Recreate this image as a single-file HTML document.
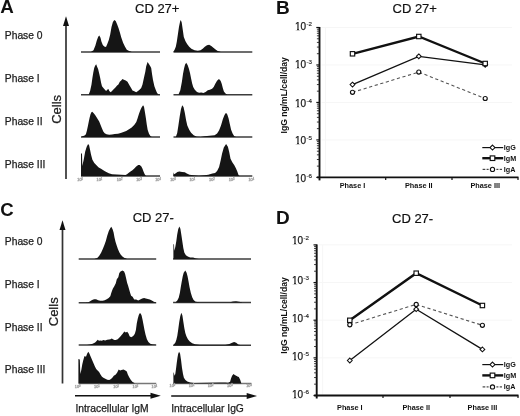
<!DOCTYPE html>
<html><head><meta charset="utf-8"><style>
html,body{margin:0;padding:0;background:#fff;width:520px;height:416px;overflow:hidden}
svg{display:block;font-family:"Liberation Sans", sans-serif}
body{filter:grayscale(1) blur(0.3px)}
</style></head><body>
<svg width="520" height="416" viewBox="0 0 520 416" font-family='"Liberation Sans", sans-serif' fill="#111">
<rect width="520" height="416" fill="#fff"/>
<text x="0.3" y="13.4" font-size="18.8" font-weight="bold">A</text>
<text x="135" y="12.9" font-size="13" stroke="#111" stroke-width="0.2">CD 27+</text>
<text x="4.8" y="39" font-size="10.3" fill="#1c1c1c" stroke="#1c1c1c" stroke-width="0.25">Phase 0</text>
<text x="4.8" y="81.9" font-size="10.3" fill="#1c1c1c" stroke="#1c1c1c" stroke-width="0.25">Phase I</text>
<text x="4.8" y="125" font-size="10.3" fill="#1c1c1c" stroke="#1c1c1c" stroke-width="0.25">Phase II</text>
<text x="4.8" y="168" font-size="10.3" fill="#1c1c1c" stroke="#1c1c1c" stroke-width="0.25">Phase III</text>
<text transform="translate(61.2,109.4) rotate(-90)" font-size="13" text-anchor="middle" fill="#1c1c1c" stroke="#1c1c1c" stroke-width="0.25">Cells</text>
<line x1="66" y1="24" x2="66" y2="179" stroke="#333" stroke-width="1.7"/>
<polygon points="66,16.2 63,26 69,26" fill="#111"/>
<line x1="81" y1="52" x2="160" y2="52" stroke="#3c3c3c" stroke-width="1.5"/>
<path d="M90.8,52 L90.8,51.9 L93.5,50.2 L95.4,45.5 L96.8,40.5 L98.2,36.8 L99.3,35.4 L100.5,37.7 L101.4,41.4 L102.8,45.1 L104.2,46.5 L106,46.9 L107.4,43.7 L108.8,40 L110.2,34.5 L111.5,27.1 L112.9,22 L114.3,19.9 L115.7,21.1 L117.1,24.3 L118.5,28 L119.9,32.6 L121.2,37.2 L123.1,42.8 L124.9,46.5 L126.8,49.7 L129.1,51.1 L131.4,51.8 L131.4,52 Z" fill="#151515"/>
<line x1="173.5" y1="52" x2="252.3" y2="52" stroke="#3c3c3c" stroke-width="1.5"/>
<path d="M173.6,52 L173.6,51.5 L174.7,49.4 L175.8,46.7 L176.8,41.8 L177.9,34.3 L179,26.8 L180.1,21.4 L180.8,20.1 L181.7,22.5 L182.8,30 L183.8,37 L185.5,41.3 L187.1,44 L189.2,46.7 L191.4,48.8 L194.6,50.2 L197.8,50.7 L200.5,50.2 L202.7,48.8 L204.8,46.7 L207,45.3 L209.1,44.8 L211.3,45.9 L213.4,47.8 L215.6,49.6 L217.7,51 L220.4,51.7 L220.4,52 Z" fill="#151515"/>
<line x1="81" y1="94.8" x2="160" y2="94.8" stroke="#3c3c3c" stroke-width="1.5"/>
<path d="M88.7,94.8 L88.7,94.5 L90.1,90.9 L91.5,84.5 L92.4,78.1 L93.3,72.6 L94.2,68 L95.1,65.8 L96.2,64.2 L97.1,66.7 L98.1,69 L99.2,73.5 L100.2,78.1 L101.1,82.7 L102,86.3 L103.4,88.1 L104.7,89.5 L106.1,90.9 L107.5,89.5 L108.4,89.1 L109.3,90.9 L110.7,92.2 L112,90.9 L113.4,89.5 L115.2,87.7 L117.1,85.4 L118.4,84.5 L119.8,81.7 L121.2,80.4 L122.5,79 L123.9,79.7 L125.7,80.4 L127.5,81.7 L129.3,84.9 L131.1,88.1 L132.5,90.4 L134.3,91.3 L136.2,92.2 L138,90.9 L139.8,89.5 L141.2,88.1 L142.5,84.5 L143.9,78.1 L145.3,71.7 L146.2,66.2 L147.6,62.1 L148.9,63.9 L150.3,66.2 L151.2,68 L152.1,74.4 L153,79.9 L154.4,86.3 L155.8,90 L157.2,93.2 L158.5,94.3 L158.5,94.8 Z" fill="#151515"/>
<line x1="173.5" y1="94.8" x2="252.3" y2="94.8" stroke="#3c3c3c" stroke-width="1.5"/>
<path d="M178.7,94.8 L178.7,94.1 L180.3,90.3 L181.9,81.7 L183,74.1 L184.1,68.2 L185.1,64.5 L186.2,62.8 L187.6,65 L188.9,68.8 L190,73.1 L191.1,78.5 L192.1,83.3 L193.2,87.1 L194.8,89.8 L197,91.9 L199.1,92.7 L201.3,92.4 L203.4,93 L205.6,91.9 L207.8,90.3 L209.9,89.8 L212.1,88.7 L213.7,87.1 L215.3,83.8 L216.9,81.1 L218.5,79.3 L219.6,79.5 L220.7,81.1 L221.7,83.8 L222.8,88.1 L223.9,91.4 L225.5,93.5 L227.1,94.4 L227.1,94.8 Z" fill="#151515"/>
<line x1="81" y1="137.1" x2="160" y2="137.1" stroke="#3c3c3c" stroke-width="1.5"/>
<path d="M81.8,137.1 L81.8,136.5 L84.6,135.6 L85.9,134.2 L86.8,131 L87.8,126.5 L88.7,121.9 L89.6,117.8 L90.5,114.2 L91.4,112.3 L92.3,111.7 L93.7,113.2 L95.1,115.1 L96.4,116.9 L97.8,119.2 L99.2,121.5 L100.5,124.7 L101.9,128.3 L103.3,131.5 L104.7,133.3 L106.5,134.2 L109.2,134.7 L112,134.5 L114.7,134 L118,133.8 L120.7,132.9 L123.5,132 L126.2,131.1 L129,129.2 L131.7,127.4 L134.4,124.7 L136.3,121.9 L137.6,118.3 L139,113.7 L140.4,110 L141.7,107.3 L143.1,105.3 L144,106.8 L144.9,111.9 L145.9,118.3 L146.8,124.7 L147.7,130.1 L149,133.8 L150.4,136.1 L151.8,137 L151.8,137.1 Z" fill="#151515"/>
<line x1="173.5" y1="137.1" x2="252.3" y2="137.1" stroke="#3c3c3c" stroke-width="1.5"/>
<path d="M175.9,137.1 L175.9,136.8 L177.2,133 L178.4,125.4 L179.7,116.5 L181,108.9 L182.2,105.3 L183.5,107 L184.8,112.7 L186.1,120.3 L187.3,125.4 L189.2,129.8 L191.1,132.7 L193.7,135.3 L196.8,136.8 L200.6,137.1 L204.5,136.2 L209.5,135.8 L214.6,135.3 L217.1,133.6 L219,130.5 L221,125.4 L222.9,119 L224.5,115 L226,112.7 L227.3,114.6 L228.6,118.4 L229.8,124.1 L231.1,129.8 L232.6,133.6 L234.3,136.2 L236.2,137.1 L236.2,137.1 Z" fill="#151515"/>
<line x1="81" y1="176" x2="160" y2="176" stroke="#3c3c3c" stroke-width="1.5"/>
<path d="M81,176 L81,176 L81,153.5 L82,153.5 L82.3,166 L83.8,159.2 L85.2,151.5 L86.7,146.7 L88.1,144 L89.1,145.3 L90,149.6 L91,154.4 L92.4,159.7 L94.3,163.1 L97.2,166 L98.7,167.4 L101,168.8 L104.9,171.3 L108.8,173.2 L112,174.2 L116.6,174.6 L121.2,174.8 L125.5,175 L127,174.2 L128.5,173.1 L130.5,171.5 L132.4,170.2 L134.3,168.5 L136.2,166.5 L138.2,165 L139.7,165 L141.2,166.2 L142.4,168.5 L143.5,171.5 L144.7,174.2 L145.8,175.8 L145.8,176 Z" fill="#151515"/>
<line x1="173.5" y1="176" x2="252.3" y2="176" stroke="#3c3c3c" stroke-width="1.5"/>
<path d="M173.3,176 L173.3,176 L173.3,172.3 L174,174.3 L175.4,173.4 L177.4,172 L179.4,171.6 L182.1,172 L184.8,172.3 L186.8,173.4 L189.5,174.7 L193.5,175.3 L198.9,175.7 L204.3,175.3 L208.3,174.7 L212.4,173.6 L215.1,173 L217.1,171 L219.1,166.9 L220.7,160.2 L222.1,153.5 L223.8,147.4 L226.1,144 L227.9,146.7 L229.2,152.1 L230.5,158.8 L232.3,162.2 L234.2,164.9 L235.9,168.3 L237.3,171.6 L238.6,175.3 L239.9,176.3 L239.9,176 Z" fill="#151515"/>
<text x="80.2" y="181.2" font-size="3.8" fill="#888" stroke="#aaa" stroke-width="0.35" text-anchor="middle">10<tspan font-size="2.6" dy="-1.3">0</tspan></text>
<text x="99.4" y="181.2" font-size="3.8" fill="#888" stroke="#aaa" stroke-width="0.35" text-anchor="middle">10<tspan font-size="2.6" dy="-1.3">1</tspan></text>
<text x="119.6" y="181.2" font-size="3.8" fill="#888" stroke="#aaa" stroke-width="0.35" text-anchor="middle">10<tspan font-size="2.6" dy="-1.3">2</tspan></text>
<text x="139" y="181.2" font-size="3.8" fill="#888" stroke="#aaa" stroke-width="0.35" text-anchor="middle">10<tspan font-size="2.6" dy="-1.3">3</tspan></text>
<text x="158" y="181.2" font-size="3.8" fill="#888" stroke="#aaa" stroke-width="0.35" text-anchor="middle">10<tspan font-size="2.6" dy="-1.3">4</tspan></text>
<text x="173.1" y="181.2" font-size="3.8" fill="#888" stroke="#aaa" stroke-width="0.35" text-anchor="middle">10<tspan font-size="2.6" dy="-1.3">0</tspan></text>
<text x="192.3" y="181.2" font-size="3.8" fill="#888" stroke="#aaa" stroke-width="0.35" text-anchor="middle">10<tspan font-size="2.6" dy="-1.3">1</tspan></text>
<text x="211.9" y="181.2" font-size="3.8" fill="#888" stroke="#aaa" stroke-width="0.35" text-anchor="middle">10<tspan font-size="2.6" dy="-1.3">2</tspan></text>
<text x="231.5" y="181.2" font-size="3.8" fill="#888" stroke="#aaa" stroke-width="0.35" text-anchor="middle">10<tspan font-size="2.6" dy="-1.3">3</tspan></text>
<text x="251.3" y="181.2" font-size="3.8" fill="#888" stroke="#aaa" stroke-width="0.35" text-anchor="middle">10<tspan font-size="2.6" dy="-1.3">4</tspan></text>
<text x="0.2" y="216.4" font-size="18.6" font-weight="bold">C</text>
<text x="132.7" y="221.9" font-size="13" stroke="#111" stroke-width="0.2">CD 27-</text>
<text x="4.8" y="244.5" font-size="10.3" fill="#1c1c1c" stroke="#1c1c1c" stroke-width="0.25">Phase 0</text>
<text x="4.8" y="287.5" font-size="10.3" fill="#1c1c1c" stroke="#1c1c1c" stroke-width="0.25">Phase I</text>
<text x="4.8" y="330.5" font-size="10.3" fill="#1c1c1c" stroke="#1c1c1c" stroke-width="0.25">Phase II</text>
<text x="4.8" y="373" font-size="10.3" fill="#1c1c1c" stroke="#1c1c1c" stroke-width="0.25">Phase III</text>
<text transform="translate(58.2,311.8) rotate(-90)" font-size="13" text-anchor="middle" fill="#1c1c1c" stroke="#1c1c1c" stroke-width="0.25">Cells</text>
<line x1="62.5" y1="228" x2="62.5" y2="383.5" stroke="#333" stroke-width="1.7"/>
<polygon points="62.5,220.3 59.5,230 65.5,230" fill="#111"/>
<line x1="78.7" y1="259.0" x2="156.2" y2="259.0" stroke="#3c3c3c" stroke-width="1.5"/>
<path d="M94.8,259.0 L94.8,258.7 L97.2,258.1 L99.1,256.1 L101.1,252.8 L103,248.4 L104.4,245.1 L105.9,240.8 L107.3,235.5 L108.8,231.1 L110.2,228.3 L111.3,226.8 L112.6,229.2 L113.6,232.6 L114.5,237.4 L115.5,241.7 L116.7,245.6 L117.9,248.9 L119.3,252.3 L120.8,254.7 L122.7,256.8 L124.6,258.1 L126.5,258.5 L126.5,259.0 Z" fill="#151515"/>
<line x1="173.1" y1="259.0" x2="251" y2="259.0" stroke="#3c3c3c" stroke-width="1.5"/>
<path d="M173.4,259.0 L173.4,259 L173.4,244.1 L174,244.6 L174.3,250.8 L175.3,247 L176.3,241.2 L177.2,234.5 L178.2,229.2 L179.3,226.6 L180.4,228.7 L181.3,234.5 L182.3,241.2 L183.3,248 L184.4,252.8 L185.9,255.2 L187.8,256.6 L190.2,257.4 L193.1,257.6 L196,258.5 L198.8,259 L198.8,259.0 Z" fill="#151515"/>
<line x1="78.7" y1="302.7" x2="156.2" y2="302.7" stroke="#3c3c3c" stroke-width="1.5"/>
<path d="M86,302.7 L86,302.5 L88,302.4 L90.1,301.2 L92.1,299.9 L94.1,299.2 L96.1,299.2 L98.1,300.2 L100.2,300.7 L102.7,300.7 L104.7,300.2 L106.7,299.2 L108.7,297.9 L110.3,296.3 L111.5,292.3 L112.8,288.8 L114.3,286.2 L115.8,283.2 L116.8,279.2 L118.3,277.2 L119.3,273.1 L120.5,271.6 L122.5,270.6 L124.1,271.6 L125.1,274.1 L126.1,278.2 L127.1,282.7 L128.1,285.7 L129.1,289.3 L130.1,292.8 L131.1,295.8 L132.6,296.8 L134.2,299.4 L136.2,299.6 L138.2,300.4 L140.2,299.6 L142.2,298.6 L144.1,297.9 L145.8,298.6 L147.8,298.9 L149.8,299.6 L151.8,300.6 L153.9,301.7 L155.9,302.4 L155.9,302.7 Z" fill="#151515"/>
<line x1="173.1" y1="302.6" x2="251" y2="302.6" stroke="#3c3c3c" stroke-width="1.5"/>
<path d="M175.8,302.6 L175.8,302 L177.3,300.5 L178.7,297.7 L179.9,292.8 L180.8,287.1 L181.8,281.3 L182.8,276 L183.7,272.7 L185.3,270.5 L186.6,272.7 L187.6,276.5 L188.5,281.3 L189.5,287.1 L190.8,292.8 L192.2,297.2 L193.6,300.1 L195.6,301.7 L200,302.3 L230,302.2 L233,301.6 L236,301.2 L239,301.8 L242,302.3 L242,302.6 Z" fill="#151515"/>
<line x1="78.7" y1="345.1" x2="156.2" y2="345.1" stroke="#3c3c3c" stroke-width="1.5"/>
<path d="M87,345.1 L87,344.9 L89.8,344.5 L92.7,343.7 L95.1,342.5 L96.6,341.1 L97.7,339.8 L99,340.8 L100.4,340.4 L101.9,340.8 L103.3,340.1 L105.2,340.4 L107.2,339.7 L109.1,339.5 L110.5,339.2 L111.8,338.5 L112.9,339.2 L114.4,340.1 L115.8,340.1 L117.7,339.2 L119.2,337.7 L120.6,336.3 L121.4,335.3 L122.9,333.4 L124.3,331.5 L125.8,332.4 L127.2,331.8 L128.5,333.4 L129.6,336.3 L131.1,337.3 L132.5,336.6 L133.9,335.3 L134.9,333.4 L135.9,330 L136.8,323.3 L137.8,318.5 L138.8,315.1 L139.7,313.2 L140.7,313.5 L141.6,315.6 L142.6,320 L143.6,325.2 L144.5,330 L145.5,334.4 L146.9,339.2 L148.4,342.1 L150.3,343.7 L152.7,344.5 L155.6,344.7 L155.6,345.1 Z" fill="#151515"/>
<line x1="173.1" y1="345.2" x2="251" y2="345.2" stroke="#3c3c3c" stroke-width="1.5"/>
<path d="M173.9,345.2 L173.9,344.5 L175.4,342.5 L176.3,340.1 L177.3,335.8 L178.3,329.1 L179.2,322.3 L180.2,316.6 L181.3,312.7 L182.4,315.6 L183.3,321.4 L184.3,328.1 L185.3,332.9 L186.4,336.3 L187.9,339.2 L189.8,341.6 L192.2,343.3 L195.1,344.3 L200,344.8 L225.4,344.8 L229.4,344.1 L232.1,342.8 L234.1,342.1 L236.2,342.8 L238.2,344.5 L240.2,345.1 L240.2,345.2 Z" fill="#151515"/>
<line x1="78.7" y1="383.4" x2="156.2" y2="383.4" stroke="#777" stroke-width="1.5"/>
<path d="M78.4,383.4 L78.4,383.3 L78.4,359 L79.8,359.5 L80.3,373.9 L81.3,370 L82.3,364.3 L83.2,360.4 L84.5,356.1 L85.1,356.6 L86.1,356.6 L87.1,353.7 L88.3,351.8 L89.5,353.7 L90.4,356.1 L91.9,359.5 L93.3,362.8 L94.8,366.2 L96.2,369.1 L97.6,370.5 L99.1,372 L100.5,374.4 L102,376.8 L103.4,377.7 L105.3,378.7 L107.3,379.7 L109.2,380.1 L110.6,379.2 L112.1,378 L113.8,375.8 L115.8,374.4 L117.2,372.4 L118.7,369.6 L120.1,370.5 L121.5,370 L123.5,369.6 L125.4,370.5 L126.8,371.5 L127.8,374.4 L129.2,377.3 L130.7,379.7 L132.6,382.1 L134.5,383 L134.5,383.4 Z" fill="#151515"/>
<line x1="173.1" y1="383.6" x2="251" y2="383.6" stroke="#777" stroke-width="1.5"/>
<path d="M173.4,383.6 L173.4,383.3 L173.4,372 L174,373.4 L174.6,375.8 L175.3,373.9 L176,369.1 L176.7,363.3 L177.5,357.5 L178.2,353.7 L179.1,351.8 L180.1,353.7 L181.1,360.4 L182,368.1 L183,373.9 L183.9,377.7 L185.4,380.1 L187.3,381.6 L190.2,382.5 L194,383 L220,382.6 L225.4,382.5 L228.1,382.8 L230.1,381.8 L231,378.5 L232.1,375.8 L233.5,374.1 L234.8,375.1 L236.2,375.8 L237.5,376.4 L238.8,377.1 L240.2,379.8 L241.3,383.2 L241.3,383.6 Z" fill="#151515"/>
<text x="77.7" y="387.8" font-size="3.8" fill="#888" stroke="#aaa" stroke-width="0.35" text-anchor="middle">10<tspan font-size="2.6" dy="-1.3">0</tspan></text>
<text x="96.9" y="387.8" font-size="3.8" fill="#888" stroke="#aaa" stroke-width="0.35" text-anchor="middle">10<tspan font-size="2.6" dy="-1.3">1</tspan></text>
<text x="116.2" y="387.8" font-size="3.8" fill="#888" stroke="#aaa" stroke-width="0.35" text-anchor="middle">10<tspan font-size="2.6" dy="-1.3">2</tspan></text>
<text x="135.4" y="387.8" font-size="3.8" fill="#888" stroke="#aaa" stroke-width="0.35" text-anchor="middle">10<tspan font-size="2.6" dy="-1.3">3</tspan></text>
<text x="154.4" y="387.8" font-size="3.8" fill="#888" stroke="#aaa" stroke-width="0.35" text-anchor="middle">10<tspan font-size="2.6" dy="-1.3">4</tspan></text>
<text x="172.4" y="387.3" font-size="3.8" fill="#888" stroke="#aaa" stroke-width="0.35" text-anchor="middle">10<tspan font-size="2.6" dy="-1.3">0</tspan></text>
<text x="191.5" y="387.3" font-size="3.8" fill="#888" stroke="#aaa" stroke-width="0.35" text-anchor="middle">10<tspan font-size="2.6" dy="-1.3">1</tspan></text>
<text x="210.6" y="387.3" font-size="3.8" fill="#888" stroke="#aaa" stroke-width="0.35" text-anchor="middle">10<tspan font-size="2.6" dy="-1.3">2</tspan></text>
<text x="229.9" y="387.3" font-size="3.8" fill="#888" stroke="#aaa" stroke-width="0.35" text-anchor="middle">10<tspan font-size="2.6" dy="-1.3">3</tspan></text>
<text x="249" y="387.3" font-size="3.8" fill="#888" stroke="#aaa" stroke-width="0.35" text-anchor="middle">10<tspan font-size="2.6" dy="-1.3">4</tspan></text>
<line x1="75" y1="395.8" x2="153" y2="395.8" stroke="#111" stroke-width="1.6"/>
<polygon points="160.8,395.8 150.5,392.8 150.5,398.8" fill="#111"/>
<line x1="171.2" y1="396" x2="249" y2="396" stroke="#111" stroke-width="1.6"/>
<polygon points="257,396 246.7,393 246.7,399" fill="#111"/>
<text x="75.4" y="411.6" font-size="10.3" fill="#1c1c1c" stroke="#1c1c1c" stroke-width="0.25">Intracellular IgM</text>
<text x="171.2" y="411.6" font-size="10.3" fill="#1c1c1c" stroke="#1c1c1c" stroke-width="0.25">Intracellular IgG</text>
<text x="276.1" y="13.6" font-size="19" font-weight="bold">B</text>
<text x="392.5" y="13" font-size="13" stroke="#111" stroke-width="0.2">CD 27+</text>
<line x1="321.5" y1="27.5" x2="512" y2="27.5" stroke="#f6f6f6" stroke-width="1"/>
<line x1="321.5" y1="64.975" x2="512" y2="64.975" stroke="#f6f6f6" stroke-width="1"/>
<line x1="321.5" y1="102.45" x2="512" y2="102.45" stroke="#f6f6f6" stroke-width="1"/>
<line x1="321.5" y1="139.925" x2="512" y2="139.925" stroke="#f6f6f6" stroke-width="1"/>
<line x1="325.5" y1="27.5" x2="325.5" y2="176.4" stroke="#f6f6f6" stroke-width="1"/>
<line x1="319.5" y1="27.0" x2="319.5" y2="180.4" stroke="#111" stroke-width="1.9"/>
<line x1="316.9" y1="166.12" x2="319.5" y2="166.12" stroke="#222" stroke-width="0.9"/>
<line x1="316.9" y1="159.52" x2="319.5" y2="159.52" stroke="#222" stroke-width="0.9"/>
<line x1="316.9" y1="154.84" x2="319.5" y2="154.84" stroke="#222" stroke-width="0.9"/>
<line x1="316.9" y1="151.21" x2="319.5" y2="151.21" stroke="#222" stroke-width="0.9"/>
<line x1="316.9" y1="148.24" x2="319.5" y2="148.24" stroke="#222" stroke-width="0.9"/>
<line x1="316.9" y1="145.73" x2="319.5" y2="145.73" stroke="#222" stroke-width="0.9"/>
<line x1="316.9" y1="143.56" x2="319.5" y2="143.56" stroke="#222" stroke-width="0.9"/>
<line x1="316.9" y1="141.64" x2="319.5" y2="141.64" stroke="#222" stroke-width="0.9"/>
<line x1="316.9" y1="128.64" x2="319.5" y2="128.64" stroke="#222" stroke-width="0.9"/>
<line x1="316.9" y1="122.04" x2="319.5" y2="122.04" stroke="#222" stroke-width="0.9"/>
<line x1="316.9" y1="117.36" x2="319.5" y2="117.36" stroke="#222" stroke-width="0.9"/>
<line x1="316.9" y1="113.73" x2="319.5" y2="113.73" stroke="#222" stroke-width="0.9"/>
<line x1="316.9" y1="110.76" x2="319.5" y2="110.76" stroke="#222" stroke-width="0.9"/>
<line x1="316.9" y1="108.25" x2="319.5" y2="108.25" stroke="#222" stroke-width="0.9"/>
<line x1="316.9" y1="106.08" x2="319.5" y2="106.08" stroke="#222" stroke-width="0.9"/>
<line x1="316.9" y1="104.16" x2="319.5" y2="104.16" stroke="#222" stroke-width="0.9"/>
<line x1="316.9" y1="91.17" x2="319.5" y2="91.17" stroke="#222" stroke-width="0.9"/>
<line x1="316.9" y1="84.57" x2="319.5" y2="84.57" stroke="#222" stroke-width="0.9"/>
<line x1="316.9" y1="79.89" x2="319.5" y2="79.89" stroke="#222" stroke-width="0.9"/>
<line x1="316.9" y1="76.26" x2="319.5" y2="76.26" stroke="#222" stroke-width="0.9"/>
<line x1="316.9" y1="73.29" x2="319.5" y2="73.29" stroke="#222" stroke-width="0.9"/>
<line x1="316.9" y1="70.78" x2="319.5" y2="70.78" stroke="#222" stroke-width="0.9"/>
<line x1="316.9" y1="68.61" x2="319.5" y2="68.61" stroke="#222" stroke-width="0.9"/>
<line x1="316.9" y1="66.69" x2="319.5" y2="66.69" stroke="#222" stroke-width="0.9"/>
<line x1="316.9" y1="53.69" x2="319.5" y2="53.69" stroke="#222" stroke-width="0.9"/>
<line x1="316.9" y1="47.09" x2="319.5" y2="47.09" stroke="#222" stroke-width="0.9"/>
<line x1="316.9" y1="42.41" x2="319.5" y2="42.41" stroke="#222" stroke-width="0.9"/>
<line x1="316.9" y1="38.78" x2="319.5" y2="38.78" stroke="#222" stroke-width="0.9"/>
<line x1="316.9" y1="35.81" x2="319.5" y2="35.81" stroke="#222" stroke-width="0.9"/>
<line x1="316.9" y1="33.30" x2="319.5" y2="33.30" stroke="#222" stroke-width="0.9"/>
<line x1="316.9" y1="31.13" x2="319.5" y2="31.13" stroke="#222" stroke-width="0.9"/>
<line x1="316.9" y1="29.21" x2="319.5" y2="29.21" stroke="#222" stroke-width="0.9"/>
<line x1="316.3" y1="27.50" x2="319.5" y2="27.50" stroke="#111" stroke-width="1.2"/>
<text x="295" y="30" font-size="10" fill="#1a1a1a" stroke="#1a1a1a" stroke-width="0.25">10<tspan font-size="6.2" dy="-3.9" dx="0.4" stroke-width="0.15">-2</tspan></text>
<rect x="295" y="29" width="2" height="1.3" fill="#fff"/>
<rect x="299" y="29" width="2" height="1.3" fill="#fff"/>
<line x1="316.3" y1="64.97" x2="319.5" y2="64.97" stroke="#111" stroke-width="1.2"/>
<text x="295" y="68" font-size="10" fill="#1a1a1a" stroke="#1a1a1a" stroke-width="0.25">10<tspan font-size="6.2" dy="-3.9" dx="0.4" stroke-width="0.15">-3</tspan></text>
<rect x="295" y="67" width="2" height="1.3" fill="#fff"/>
<rect x="299" y="67" width="2" height="1.3" fill="#fff"/>
<line x1="316.3" y1="102.45" x2="319.5" y2="102.45" stroke="#111" stroke-width="1.2"/>
<text x="295" y="107" font-size="10" fill="#1a1a1a" stroke="#1a1a1a" stroke-width="0.25">10<tspan font-size="6.2" dy="-3.9" dx="0.4" stroke-width="0.15">-4</tspan></text>
<rect x="295" y="106" width="2" height="1.3" fill="#fff"/>
<rect x="299" y="106" width="2" height="1.3" fill="#fff"/>
<line x1="316.3" y1="139.93" x2="319.5" y2="139.93" stroke="#111" stroke-width="1.2"/>
<text x="295" y="144" font-size="10" fill="#1a1a1a" stroke="#1a1a1a" stroke-width="0.25">10<tspan font-size="6.2" dy="-3.9" dx="0.4" stroke-width="0.15">-5</tspan></text>
<rect x="295" y="143" width="2" height="1.3" fill="#fff"/>
<rect x="299" y="143" width="2" height="1.3" fill="#fff"/>
<line x1="316.3" y1="177.40" x2="319.5" y2="177.40" stroke="#111" stroke-width="1.2"/>
<text x="295" y="182" font-size="10" fill="#1a1a1a" stroke="#1a1a1a" stroke-width="0.25">10<tspan font-size="6.2" dy="-3.9" dx="0.4" stroke-width="0.15">-6</tspan></text>
<rect x="295" y="181" width="2" height="1.3" fill="#fff"/>
<rect x="299" y="181" width="2" height="1.3" fill="#fff"/>
<line x1="317.0" y1="177.4" x2="518.5" y2="177.4" stroke="#111" stroke-width="1.9"/>
<line x1="385.7" y1="177.4" x2="385.7" y2="180.0" stroke="#111" stroke-width="1.2"/>
<line x1="452" y1="177.4" x2="452" y2="180.0" stroke="#111" stroke-width="1.2"/>
<line x1="518" y1="177.4" x2="518" y2="180.0" stroke="#111" stroke-width="1.2"/>
<text x="352.5" y="188.2" font-size="7.3" font-weight="bold" text-anchor="middle" fill="#111">Phase I</text>
<text x="418.8" y="188.2" font-size="7.3" font-weight="bold" text-anchor="middle" fill="#111">Phase II</text>
<text x="485.2" y="188.2" font-size="7.3" font-weight="bold" text-anchor="middle" fill="#111">Phase III</text>
<text transform="translate(287.2,95.3) rotate(-90)" font-size="8.6" font-weight="bold" text-anchor="middle" fill="#111">IgG ng/mL/cell/day</text>
<polyline points="352.5,92.3 418.8,72.1 485.2,98.5" fill="none" stroke="#555" stroke-width="1.1" stroke-dasharray="3.2,2.6"/>
<polyline points="352.5,84.6 418.8,56.3 485.2,64.8" fill="none" stroke="#111" stroke-width="1.3"/>
<polyline points="352.5,53.8 418.8,36.5 485.2,63.5" fill="none" stroke="#111" stroke-width="2.4"/>
<circle cx="352.5" cy="92.3" r="2.05" fill="#fff" stroke="#111" stroke-width="1.15"/>
<circle cx="418.8" cy="72.1" r="2.05" fill="#fff" stroke="#111" stroke-width="1.15"/>
<circle cx="485.2" cy="98.5" r="2.05" fill="#fff" stroke="#111" stroke-width="1.15"/>
<polygon points="352.5,82.19999999999999 354.9,84.6 352.5,87.0 350.1,84.6" fill="#fff" stroke="#111" stroke-width="1.05"/>
<polygon points="418.8,53.9 421.2,56.3 418.8,58.699999999999996 416.40000000000003,56.3" fill="#fff" stroke="#111" stroke-width="1.05"/>
<polygon points="485.2,62.4 487.59999999999997,64.8 485.2,67.2 482.8,64.8" fill="#fff" stroke="#111" stroke-width="1.05"/>
<rect x="350.3" y="51.599999999999994" width="4.4" height="4.4" fill="#fff" stroke="#111" stroke-width="1.15"/>
<rect x="416.6" y="34.3" width="4.4" height="4.4" fill="#fff" stroke="#111" stroke-width="1.15"/>
<rect x="483.0" y="61.3" width="4.4" height="4.4" fill="#fff" stroke="#111" stroke-width="1.15"/>
<line x1="482.3" y1="147.6" x2="503.2" y2="147.6" stroke="#111" stroke-width="1.2"/>
<polygon points="492.5,145.1 495.0,147.6 492.5,150.1 490.0,147.6" fill="#fff" stroke="#111" stroke-width="1.05"/>
<line x1="482.3" y1="158.2" x2="503.2" y2="158.2" stroke="#111" stroke-width="2.4"/>
<rect x="490.2" y="155.89999999999998" width="4.6" height="4.6" fill="#fff" stroke="#111" stroke-width="1.15"/>
<line x1="482.6" y1="169.4" x2="485.3" y2="169.4" stroke="#444" stroke-width="1.2"/>
<line x1="486.6" y1="169.4" x2="488.6" y2="169.4" stroke="#444" stroke-width="1.2"/>
<line x1="496.4" y1="169.4" x2="498.4" y2="169.4" stroke="#444" stroke-width="1.2"/>
<line x1="499.7" y1="169.4" x2="502.0" y2="169.4" stroke="#444" stroke-width="1.2"/>
<circle cx="492.5" cy="169.4" r="2.1" fill="#fff" stroke="#111" stroke-width="1.15"/>
<text x="503.8" y="150.0" font-size="7.2" font-weight="bold" fill="#111">IgG</text>
<text x="503.8" y="160.6" font-size="7.2" font-weight="bold" fill="#111">IgM</text>
<text x="503.8" y="171.8" font-size="7.2" font-weight="bold" fill="#111">IgA</text>
<text x="276.1" y="223.5" font-size="19" font-weight="bold">D</text>
<text x="392" y="222.5" font-size="13" stroke="#111" stroke-width="0.2">CD 27-</text>
<line x1="318.7" y1="244.9" x2="512" y2="244.9" stroke="#f6f6f6" stroke-width="1"/>
<line x1="318.7" y1="282.55" x2="512" y2="282.55" stroke="#f6f6f6" stroke-width="1"/>
<line x1="318.7" y1="320.2" x2="512" y2="320.2" stroke="#f6f6f6" stroke-width="1"/>
<line x1="318.7" y1="357.85" x2="512" y2="357.85" stroke="#f6f6f6" stroke-width="1"/>
<line x1="322.7" y1="244.9" x2="322.7" y2="394.5" stroke="#f6f6f6" stroke-width="1"/>
<line x1="316.7" y1="244.4" x2="316.7" y2="398.5" stroke="#111" stroke-width="1.9"/>
<line x1="314.09999999999997" y1="384.17" x2="316.7" y2="384.17" stroke="#222" stroke-width="0.9"/>
<line x1="314.09999999999997" y1="377.54" x2="316.7" y2="377.54" stroke="#222" stroke-width="0.9"/>
<line x1="314.09999999999997" y1="372.83" x2="316.7" y2="372.83" stroke="#222" stroke-width="0.9"/>
<line x1="314.09999999999997" y1="369.18" x2="316.7" y2="369.18" stroke="#222" stroke-width="0.9"/>
<line x1="314.09999999999997" y1="366.20" x2="316.7" y2="366.20" stroke="#222" stroke-width="0.9"/>
<line x1="314.09999999999997" y1="363.68" x2="316.7" y2="363.68" stroke="#222" stroke-width="0.9"/>
<line x1="314.09999999999997" y1="361.50" x2="316.7" y2="361.50" stroke="#222" stroke-width="0.9"/>
<line x1="314.09999999999997" y1="359.57" x2="316.7" y2="359.57" stroke="#222" stroke-width="0.9"/>
<line x1="314.09999999999997" y1="346.52" x2="316.7" y2="346.52" stroke="#222" stroke-width="0.9"/>
<line x1="314.09999999999997" y1="339.89" x2="316.7" y2="339.89" stroke="#222" stroke-width="0.9"/>
<line x1="314.09999999999997" y1="335.18" x2="316.7" y2="335.18" stroke="#222" stroke-width="0.9"/>
<line x1="314.09999999999997" y1="331.53" x2="316.7" y2="331.53" stroke="#222" stroke-width="0.9"/>
<line x1="314.09999999999997" y1="328.55" x2="316.7" y2="328.55" stroke="#222" stroke-width="0.9"/>
<line x1="314.09999999999997" y1="326.03" x2="316.7" y2="326.03" stroke="#222" stroke-width="0.9"/>
<line x1="314.09999999999997" y1="323.85" x2="316.7" y2="323.85" stroke="#222" stroke-width="0.9"/>
<line x1="314.09999999999997" y1="321.92" x2="316.7" y2="321.92" stroke="#222" stroke-width="0.9"/>
<line x1="314.09999999999997" y1="308.87" x2="316.7" y2="308.87" stroke="#222" stroke-width="0.9"/>
<line x1="314.09999999999997" y1="302.24" x2="316.7" y2="302.24" stroke="#222" stroke-width="0.9"/>
<line x1="314.09999999999997" y1="297.53" x2="316.7" y2="297.53" stroke="#222" stroke-width="0.9"/>
<line x1="314.09999999999997" y1="293.88" x2="316.7" y2="293.88" stroke="#222" stroke-width="0.9"/>
<line x1="314.09999999999997" y1="290.90" x2="316.7" y2="290.90" stroke="#222" stroke-width="0.9"/>
<line x1="314.09999999999997" y1="288.38" x2="316.7" y2="288.38" stroke="#222" stroke-width="0.9"/>
<line x1="314.09999999999997" y1="286.20" x2="316.7" y2="286.20" stroke="#222" stroke-width="0.9"/>
<line x1="314.09999999999997" y1="284.27" x2="316.7" y2="284.27" stroke="#222" stroke-width="0.9"/>
<line x1="314.09999999999997" y1="271.22" x2="316.7" y2="271.22" stroke="#222" stroke-width="0.9"/>
<line x1="314.09999999999997" y1="264.59" x2="316.7" y2="264.59" stroke="#222" stroke-width="0.9"/>
<line x1="314.09999999999997" y1="259.88" x2="316.7" y2="259.88" stroke="#222" stroke-width="0.9"/>
<line x1="314.09999999999997" y1="256.23" x2="316.7" y2="256.23" stroke="#222" stroke-width="0.9"/>
<line x1="314.09999999999997" y1="253.25" x2="316.7" y2="253.25" stroke="#222" stroke-width="0.9"/>
<line x1="314.09999999999997" y1="250.73" x2="316.7" y2="250.73" stroke="#222" stroke-width="0.9"/>
<line x1="314.09999999999997" y1="248.55" x2="316.7" y2="248.55" stroke="#222" stroke-width="0.9"/>
<line x1="314.09999999999997" y1="246.62" x2="316.7" y2="246.62" stroke="#222" stroke-width="0.9"/>
<line x1="313.5" y1="244.90" x2="316.7" y2="244.90" stroke="#111" stroke-width="1.2"/>
<text x="292" y="244" font-size="10" fill="#1a1a1a" stroke="#1a1a1a" stroke-width="0.25">10<tspan font-size="6.2" dy="-3.9" dx="0.4" stroke-width="0.15">-2</tspan></text>
<rect x="292" y="243" width="2" height="1.3" fill="#fff"/>
<rect x="296" y="243" width="2" height="1.3" fill="#fff"/>
<line x1="313.5" y1="282.55" x2="316.7" y2="282.55" stroke="#111" stroke-width="1.2"/>
<text x="292" y="284" font-size="10" fill="#1a1a1a" stroke="#1a1a1a" stroke-width="0.25">10<tspan font-size="6.2" dy="-3.9" dx="0.4" stroke-width="0.15">-3</tspan></text>
<rect x="292" y="283" width="2" height="1.3" fill="#fff"/>
<rect x="296" y="283" width="2" height="1.3" fill="#fff"/>
<line x1="313.5" y1="320.20" x2="316.7" y2="320.20" stroke="#111" stroke-width="1.2"/>
<text x="292" y="322" font-size="10" fill="#1a1a1a" stroke="#1a1a1a" stroke-width="0.25">10<tspan font-size="6.2" dy="-3.9" dx="0.4" stroke-width="0.15">-4</tspan></text>
<rect x="292" y="321" width="2" height="1.3" fill="#fff"/>
<rect x="296" y="321" width="2" height="1.3" fill="#fff"/>
<line x1="313.5" y1="357.85" x2="316.7" y2="357.85" stroke="#111" stroke-width="1.2"/>
<text x="292" y="360" font-size="10" fill="#1a1a1a" stroke="#1a1a1a" stroke-width="0.25">10<tspan font-size="6.2" dy="-3.9" dx="0.4" stroke-width="0.15">-5</tspan></text>
<rect x="292" y="359" width="2" height="1.3" fill="#fff"/>
<rect x="296" y="359" width="2" height="1.3" fill="#fff"/>
<line x1="313.5" y1="395.50" x2="316.7" y2="395.50" stroke="#111" stroke-width="1.2"/>
<text x="292" y="398" font-size="10" fill="#1a1a1a" stroke="#1a1a1a" stroke-width="0.25">10<tspan font-size="6.2" dy="-3.9" dx="0.4" stroke-width="0.15">-6</tspan></text>
<rect x="292" y="397" width="2" height="1.3" fill="#fff"/>
<rect x="296" y="397" width="2" height="1.3" fill="#fff"/>
<line x1="314.2" y1="395.5" x2="518.5" y2="395.5" stroke="#111" stroke-width="1.9"/>
<line x1="383" y1="395.5" x2="383" y2="398.1" stroke="#111" stroke-width="1.2"/>
<line x1="450" y1="395.5" x2="450" y2="398.1" stroke="#111" stroke-width="1.2"/>
<line x1="518" y1="395.5" x2="518" y2="398.1" stroke="#111" stroke-width="1.2"/>
<text x="349.8" y="410.3" font-size="7.3" font-weight="bold" text-anchor="middle" fill="#111">Phase I</text>
<text x="416.2" y="410.3" font-size="7.3" font-weight="bold" text-anchor="middle" fill="#111">Phase II</text>
<text x="482.4" y="410.3" font-size="7.3" font-weight="bold" text-anchor="middle" fill="#111">Phase III</text>
<text transform="translate(287.2,315.5) rotate(-90)" font-size="8.6" font-weight="bold" text-anchor="middle" fill="#111">IgG ng/mL/cell/day</text>
<polyline points="349.8,324.8 416.2,304.4 482.4,325.3" fill="none" stroke="#555" stroke-width="1.1" stroke-dasharray="3.2,2.6"/>
<polyline points="349.8,360.5 416.2,309.2 482.4,349.4" fill="none" stroke="#111" stroke-width="1.3"/>
<polyline points="349.8,320.3 416.2,273.2 482.4,305.5" fill="none" stroke="#111" stroke-width="2.4"/>
<circle cx="349.8" cy="324.8" r="2.05" fill="#fff" stroke="#111" stroke-width="1.15"/>
<circle cx="416.2" cy="304.4" r="2.05" fill="#fff" stroke="#111" stroke-width="1.15"/>
<circle cx="482.4" cy="325.3" r="2.05" fill="#fff" stroke="#111" stroke-width="1.15"/>
<polygon points="349.8,358.1 352.2,360.5 349.8,362.9 347.40000000000003,360.5" fill="#fff" stroke="#111" stroke-width="1.05"/>
<polygon points="416.2,306.8 418.59999999999997,309.2 416.2,311.59999999999997 413.8,309.2" fill="#fff" stroke="#111" stroke-width="1.05"/>
<polygon points="482.4,347.0 484.79999999999995,349.4 482.4,351.79999999999995 480.0,349.4" fill="#fff" stroke="#111" stroke-width="1.05"/>
<rect x="347.6" y="318.1" width="4.4" height="4.4" fill="#fff" stroke="#111" stroke-width="1.15"/>
<rect x="414.0" y="271.0" width="4.4" height="4.4" fill="#fff" stroke="#111" stroke-width="1.15"/>
<rect x="480.2" y="303.3" width="4.4" height="4.4" fill="#fff" stroke="#111" stroke-width="1.15"/>
<line x1="482.3" y1="364.6" x2="503.2" y2="364.6" stroke="#111" stroke-width="1.2"/>
<polygon points="492.5,362.1 495.0,364.6 492.5,367.1 490.0,364.6" fill="#fff" stroke="#111" stroke-width="1.05"/>
<line x1="482.3" y1="375.4" x2="503.2" y2="375.4" stroke="#111" stroke-width="2.4"/>
<rect x="490.2" y="373.09999999999997" width="4.6" height="4.6" fill="#fff" stroke="#111" stroke-width="1.15"/>
<line x1="482.6" y1="386.9" x2="485.3" y2="386.9" stroke="#444" stroke-width="1.2"/>
<line x1="486.6" y1="386.9" x2="488.6" y2="386.9" stroke="#444" stroke-width="1.2"/>
<line x1="496.4" y1="386.9" x2="498.4" y2="386.9" stroke="#444" stroke-width="1.2"/>
<line x1="499.7" y1="386.9" x2="502.0" y2="386.9" stroke="#444" stroke-width="1.2"/>
<circle cx="492.5" cy="386.9" r="2.1" fill="#fff" stroke="#111" stroke-width="1.15"/>
<text x="503.8" y="367.0" font-size="7.2" font-weight="bold" fill="#111">IgG</text>
<text x="503.8" y="377.79999999999995" font-size="7.2" font-weight="bold" fill="#111">IgM</text>
<text x="503.8" y="389.29999999999995" font-size="7.2" font-weight="bold" fill="#111">IgA</text>
</svg>
</body></html>
